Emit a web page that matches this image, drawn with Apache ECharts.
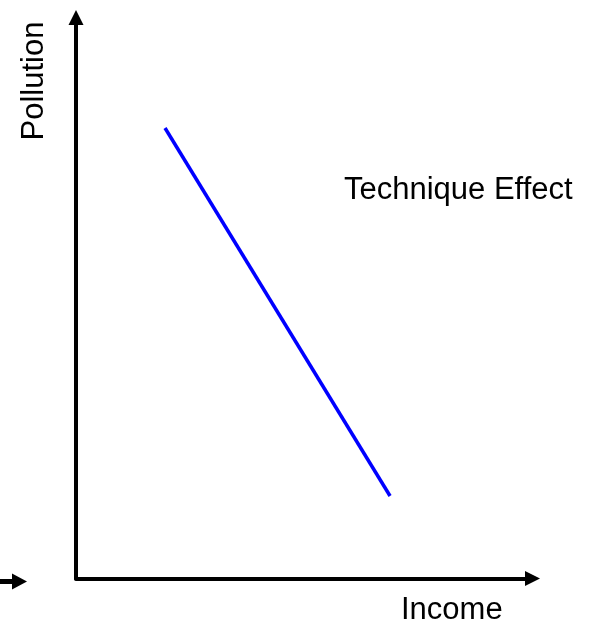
<!DOCTYPE html>
<html>
<head>
<meta charset="utf-8">
<script src="https://cdn.jsdelivr.net/npm/echarts@6/dist/echarts.min.js"></script>
<style>
  html, body { margin: 0; padding: 0; background: #fff; }
  #main { width: 597px; height: 627px; }
</style>
</head>
<body>
<div id="main"></div>
<script>
// data (axis units 0..100, no ticks shown)
var incomeX = [19.5, 68.8];
var pollutionY = [80.3, 14.7];
var xName = 'Income';
var yName = 'Pollution';
var curveLabel = 'Technique Effect';

var lineData = [];
for (var i = 0; i < incomeX.length; i++) {
    lineData.push([incomeX[i], pollutionY[i]]);
}

var myChart = echarts.init(document.getElementById('main'));

var axisCommon = {
    type: 'value',
    min: 0,
    max: 100,
    splitLine: { show: false },
    axisTick: { show: false },
    axisLabel: { show: false },
    axisLine: {
        show: true,
        symbol: ['none', 'triangle'],
        symbolSize: [15, 15],
        lineStyle: { color: '#000', width: 4 }
    }
};

var font = 'Liberation Sans, Arial, sans-serif';

option = {
    animation: false,
    backgroundColor: '#fff',
    grid: { left: 76, right: 64.5, top: 17.5, bottom: 48.5 },
    xAxis: axisCommon,
    yAxis: axisCommon,
    series: [
        {
            type: 'line',
            data: lineData,
            symbol: 'none',
            lineStyle: { color: '#0000ff', width: 3.5 }
        }
    ],
    graphic: [
        {
            type: 'text', x: 34, y: 81, rotation: Math.PI / 2,
            style: { text: yName, font: '31px ' + font, fill: '#000', align: 'center', verticalAlign: 'middle' }
        },
        {
            type: 'text', x: 344, y: 190,
            style: { text: curveLabel, font: '31px ' + font, fill: '#000', align: 'left', verticalAlign: 'middle' }
        },
        {
            type: 'text', x: 401, y: 610,
            style: { text: xName, font: '31px ' + font, fill: '#000', align: 'left', verticalAlign: 'middle' }
        },
        // stray arrow at bottom-left of the original picture
        {
            type: 'line',
            shape: { x1: 0, y1: 581.5, x2: 14, y2: 581.5 },
            style: { stroke: '#000', lineWidth: 5 }
        },
        {
            type: 'polygon',
            shape: { points: [[12, 573.5], [27, 581.5], [12, 589.5]] },
            style: { fill: '#000' }
        }
    ]
};
myChart.setOption(option);
</script>
</body>
</html>
